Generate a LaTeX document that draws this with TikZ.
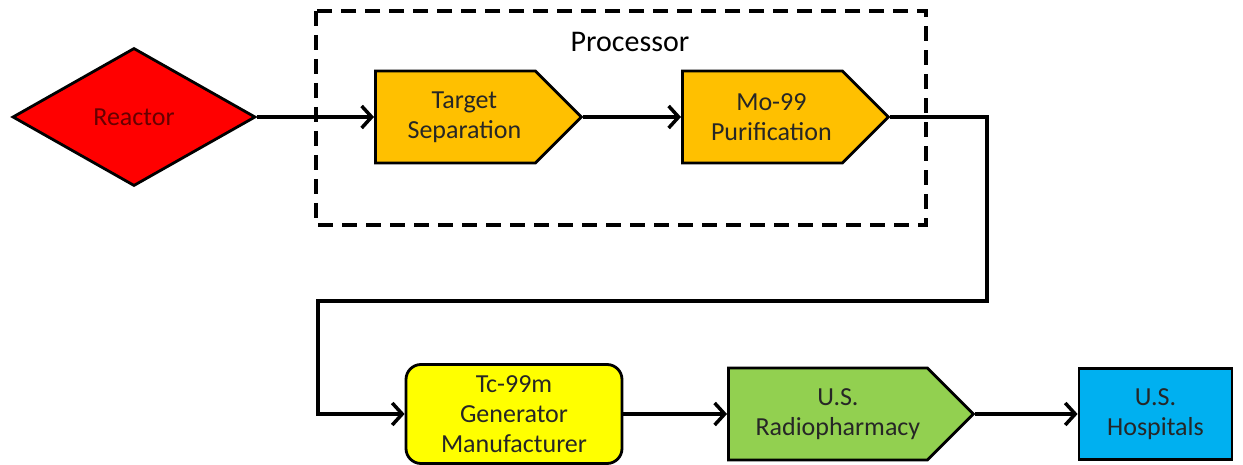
\documentclass[tikz,border=0pt]{standalone}
\usepackage{fontspec}
\setmainfont{Carlito}
\usepackage{tikz}
\usetikzlibrary{shapes.geometric}
\usetikzlibrary{shapes.symbols}
\usetikzlibrary{arrows.meta}

\definecolor{reactorred}{HTML}{FF0000}
\definecolor{procorange}{HTML}{FFC000}
\definecolor{genyellow}{HTML}{FFFF00}
\definecolor{pharmgreen}{HTML}{92D050}
\definecolor{hospblue}{HTML}{00B0F0}

\tikzset{
	stage/.style={draw=black, line width=2.8pt, text=black!85, align=center, inner sep=0pt},
	pentagon/.style={stage, shape=signal, signal to=east, signal pointer angle=90, minimum height=92pt, anchor=west},
	flow/.style={line width=3.5pt, -{Straight Barb[length=10pt, width=22pt, line width=3.5pt]}},
}

\begin{document}
\begin{tikzpicture}[x=1pt, y=-1pt]\fontsize{26}{30}\selectfont

			\useasboundingbox (0, 0) rectangle (1243, 465);

			\draw[line width=3.5pt, dash pattern=on 15pt off 9pt] (316, 11) rectangle (926, 225);
			\node (proclabel) at (630, 42) {\fontsize{30}{34}\selectfont Processor};

			\node[stage, shape=diamond, fill=reactorred, text=black!60!red, minimum width=243pt, minimum height=138pt] (reactor) at (134, 117) {Reactor};
			\node[pentagon, fill=procorange, minimum width=206pt] (target) at (374, 117) {\hspace*{18pt}Target\\\hspace*{18pt}Separation};
			\node[pentagon, fill=procorange, minimum width=206pt] (purif) at (681, 117) {\hspace*{18pt}Mo-99\\\hspace*{18pt}Purification};

			\node[stage, fill=genyellow, rounded corners=15pt, minimum width=216pt, minimum height=99pt] (gen) at (514, 414) {Tc-99m\\Generator\\Manufacturer};
			\node[pentagon, fill=pharmgreen, minimum width=245pt] (pharm) at (727, 414) {\hspace*{20pt}U.S.\\\hspace*{20pt}Radiopharmacy};
			\node[stage, fill=hospblue, minimum width=153pt, minimum height=91pt] (hosp) at (1155.5, 414) {U.S.\\Hospitals};

			\coordinate (turnA) at (987, 301);
			\coordinate (turnB) at (318, 301);

			\draw[flow] (reactor.east) -- (target.west);
			\draw[flow] (target.east) -- (purif.west);
			\draw[flow] (purif.east) -| (turnA) -- (turnB) |- (gen.west);
			\draw[flow] (gen.east) -- (pharm.west);
			\draw[flow] (pharm.east) -- (hosp.west);
		\end{tikzpicture}
\end{document}
